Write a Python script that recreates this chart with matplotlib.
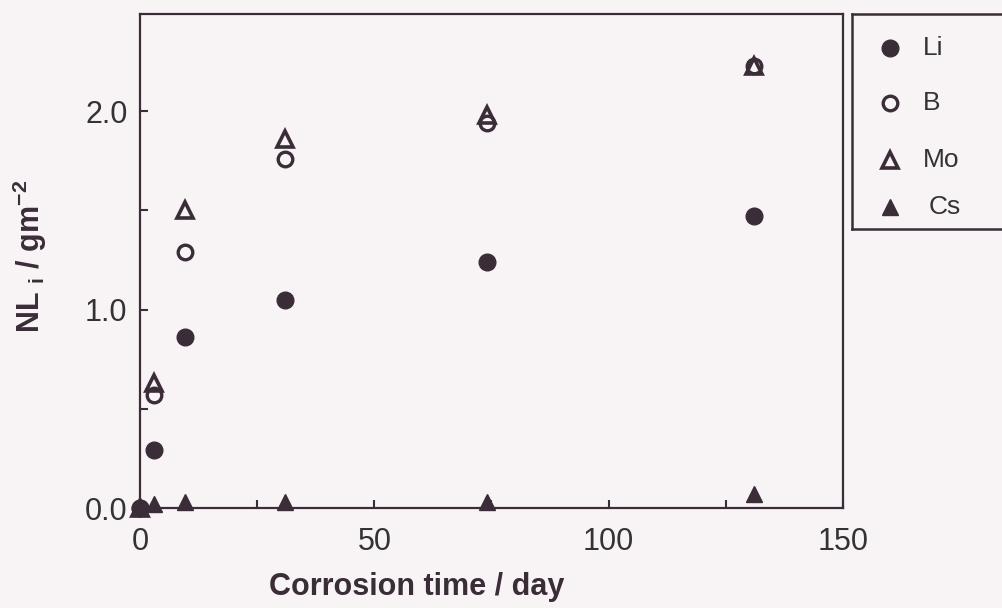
import matplotlib
matplotlib.use('Agg')
import matplotlib.pyplot as plt
from matplotlib.ticker import MultipleLocator, FormatStrFormatter

plt.rcParams['font.family'] = ['Liberation Sans', 'DejaVu Sans']
plt.rcParams['mathtext.fontset'] = 'custom'
plt.rcParams['mathtext.rm'] = 'Liberation Sans:bold'
plt.rcParams['mathtext.it'] = 'Liberation Sans:bold'
plt.rcParams['mathtext.bf'] = 'Liberation Sans:bold'

# data
days = [0, 3, 9.5, 31, 74, 131]
li = [0, 0.29, 0.86, 1.05, 1.24, 1.47]
b = [0, 0.57, 1.29, 1.76, 1.94, 2.23]
mo = [0, 0.63, 1.50, 1.86, 1.98, 2.23]
cs = [0, 0.02, 0.03, 0.03, 0.03, 0.07]
names = ['Li', 'B', 'Mo', 'Cs']

ink = '#3a2d38'
bg = '#f8f4f6'
txt = '#333333'

fig = plt.figure(figsize=(10.03, 6.08), dpi=100, facecolor=bg)
ax = fig.add_axes([140/1003, 100/608, 703/1003, 494/608], facecolor=bg)

ax.plot(days, li, 'o', ms=12, color=ink, mec=ink, ls='none', clip_on=False, zorder=3)
ax.plot(days, b, 'o', ms=10.5, mfc='none', mec=ink, mew=2.4, ls='none', clip_on=False, zorder=3)
ax.plot(days, mo, '^', ms=11, mfc='none', mec=ink, mew=2.6, ls='none', clip_on=False, zorder=3)
ax.plot(days, cs, '^', ms=12, color=ink, mec=ink, ls='none', clip_on=False, zorder=3)

ax.set_xlim(0, 150)
ax.set_ylim(0, 2.49)
ax.xaxis.set_major_locator(MultipleLocator(50))
ax.xaxis.set_minor_locator(MultipleLocator(25))
ax.yaxis.set_major_locator(MultipleLocator(1.0))
ax.yaxis.set_minor_locator(MultipleLocator(0.5))
ax.yaxis.set_major_formatter(FormatStrFormatter('%.1f'))
ax.tick_params(which='both', direction='in', length=6, width=1.5, color=ink,
               top=False, right=False)
ax.tick_params(axis='x', which='major', pad=14, labelsize=22, labelcolor=txt)
ax.tick_params(axis='y', which='major', pad=9, labelsize=22, labelcolor=txt)
for s in ax.spines.values():
    s.set_linewidth(1.6)
    s.set_color(ink)

ax.set_xlabel('Corrosion time / day', fontsize=22, fontweight='bold', color=ink)
ax.set_ylabel(r'NL $_{\mathrm{i}}$ / gm$^{\mathrm{-2}}$', fontsize=22, fontweight='bold', color=ink)
ax.xaxis.set_label_coords(0.394, -0.16)
ax.xaxis.label.set_va('center')
ax.yaxis.set_label_coords(-0.156, 0.51)
ax.yaxis.label.set_va('center')

# legend box
lg = fig.add_axes([852/1003, (608-229)/608, 160/1003, 215/608], facecolor=bg)
lg.set_xlim(0, 1)
lg.set_ylim(0, 1)
lg.set_xticks([])
lg.set_yticks([])
for s in lg.spines.values():
    s.set_linewidth(1.8)
    s.set_color(ink)
styles = [dict(marker='o', ms=12, color=ink, mec=ink),
          dict(marker='o', ms=10.5, mfc='none', mec=ink, mew=2.4),
          dict(marker='^', ms=11, mfc='none', mec=ink, mew=2.6),
          dict(marker='^', ms=12, color=ink, mec=ink)]
ypos = [0.842, 0.586, 0.321, 0.102]
xtxt = [0.44, 0.44, 0.44, 0.48]
for name, st, yy, xt in zip(names, styles, ypos, xtxt):
    lg.plot([0.24], [yy], ls='none', **st)
    lg.text(xt, yy, name, fontsize=19, color=txt, va='center', ha='left')

fig.savefig('out.png', dpi=100, facecolor=bg)
